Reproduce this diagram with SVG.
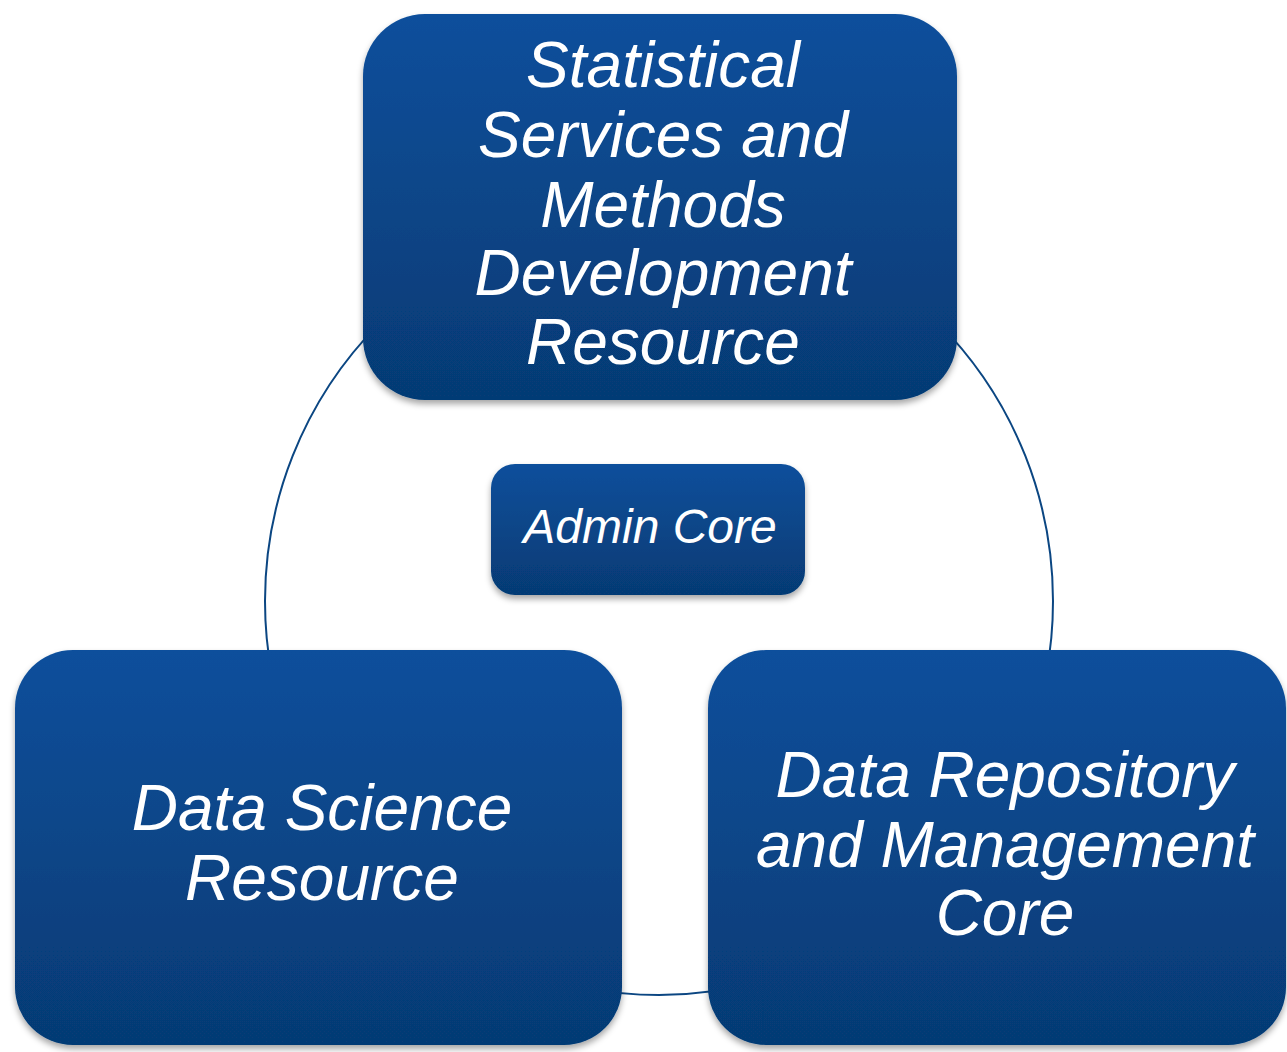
<svg xmlns="http://www.w3.org/2000/svg" width="1287" height="1052" viewBox="0 0 1287 1052">
<style>
.box{fill:url(#g);filter:url(#sh)}
.hl{fill:none;stroke:#3f7fc6;stroke-width:2;opacity:0.7}
.t{font-family:"Liberation Sans",Arial,sans-serif;font-style:italic;fill:#ffffff;text-anchor:middle}
.big{font-size:64px}
.small{font-size:48px}
</style>
<defs>
<linearGradient id="g" x1="0" y1="0" x2="0" y2="1">
<stop offset="0" stop-color="#0a4f9c"/>
<stop offset="0.5" stop-color="#084587"/>
<stop offset="1" stop-color="#063a74"/>
</linearGradient>
<filter id="sh" x="-10%" y="-10%" width="120%" height="125%">
<feDropShadow dx="0" dy="4" stdDeviation="3" flood-color="#000" flood-opacity="0.35"/>
</filter>
</defs>
<g id="connectors">
<circle cx="659" cy="601" r="394" fill="none" stroke="#0b4682" stroke-width="2"/>
</g>
<g id="node-stat">
<rect class="box" x="363" y="14" width="594" height="386" rx="62" ry="62"/>
<text class="t big"><tspan x="663" y="87">Statistical</tspan><tspan x="663" y="157">Services and</tspan><tspan x="663" y="227">Methods</tspan><tspan x="663" y="295">Development</tspan><tspan x="663" y="364">Resource</tspan></text>
</g>
<g id="node-admin">
<rect class="box" x="491" y="464" width="314" height="131" rx="24" ry="24"/>
<text class="t small" x="650" y="543">Admin Core</text>
</g>
<g id="node-dsr">
<rect class="box" x="15" y="650" width="607" height="395" rx="58" ry="58"/>
<text class="t big"><tspan x="322" y="830">Data Science</tspan><tspan x="322" y="900">Resource</tspan></text>
</g>
<g id="node-drm">
<rect class="box" x="708" y="650" width="578" height="395" rx="58" ry="58"/>
<text class="t big"><tspan x="1005" y="797">Data Repository</tspan><tspan x="1005" y="867">and Management</tspan><tspan x="1005" y="935">Core</tspan></text>
</g>
</svg>
